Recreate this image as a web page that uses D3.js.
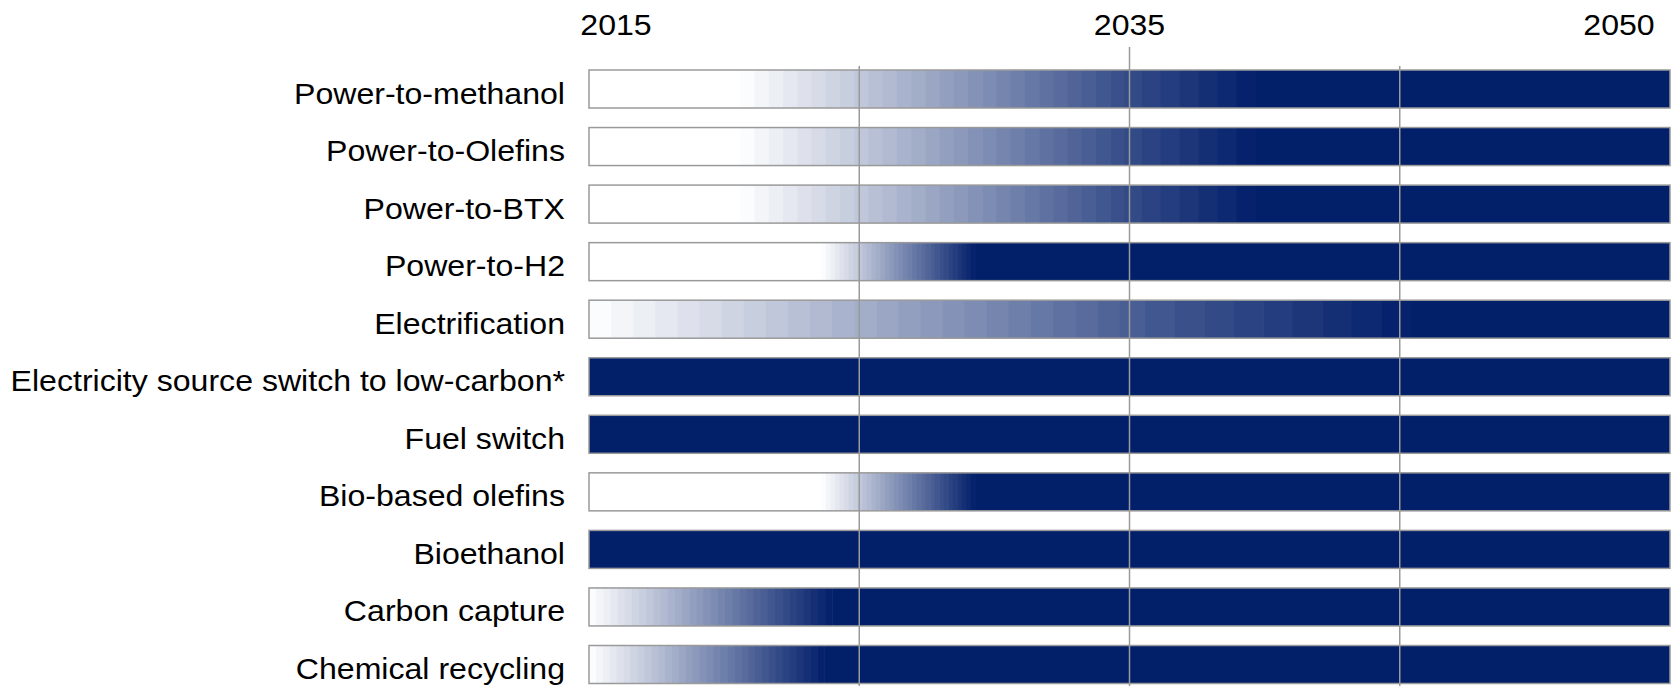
<!DOCTYPE html>
<html>
<head>
<meta charset="utf-8">
<script src="https://cdn.jsdelivr.net/npm/d3@7"></script>
<style>
  html, body { margin: 0; padding: 0; background: #fff; }
  svg { display: block; }
  text { font-family: "Liberation Sans", Arial, sans-serif; fill: #000; }
</style>
</head>
<body>
<script>
// ---- data ----
const categories = [
  "Power-to-methanol",
  "Power-to-Olefins",
  "Power-to-BTX",
  "Power-to-H2",
  "Electrification",
  "Electricity source switch to low-carbon*",
  "Fuel switch",
  "Bio-based olefins",
  "Bioethanol",
  "Carbon capture",
  "Chemical recycling"
];
// year at which the fade from white begins
const fadeStart = [2020.6, 2020.6, 2020.6, 2023.6, 2015.0, 2015.0, 2015.0, 2023.6, 2015.0, 2015.0, 2015.0];
// year at which the bar becomes fully dark
const fadeEnd   = [2038.5, 2038.5, 2038.5, 2029.3, 2042.8, 2015.0, 2015.0, 2029.3, 2015.0, 2024.0, 2023.7];
const tickYears = [2015, 2035, 2050];
const tickLabels = ["2015", "2035", "2050"];
const gridYears = [2025, 2035, 2042.5];

// ---- layout ----
const W = 1677, H = 686;
const x0 = 589, x1 = 1670;
const navy = "#021F6A";
const steps = 34;

const svg = d3.select("body").append("svg").attr("width", W).attr("height", H);

const x = d3.scaleLinear().domain([2015, 2035, 2050]).range([x0, (x0 + x1) / 2, x1]);
const y = d3.scalePoint().domain(categories).range([89, 664.5]);
const barH = 38;
const color = d3.interpolateRgb("#ffffff", navy);

const rows = categories.map((c, i) => ({ name: c, s: fadeStart[i], e: fadeEnd[i] }));

const g = svg.selectAll("g.row").data(rows).join("g").attr("class", "row");

// white background + solid dark part
g.append("rect")
  .attr("x", x(2015)).attr("width", x(2050) - x(2015))
  .attr("y", d => y(d.name) - barH / 2).attr("height", barH)
  .attr("fill", "#fff");
g.append("rect")
  .attr("x", d => x(d.e)).attr("width", d => x(2050) - x(d.e))
  .attr("y", d => y(d.name) - barH / 2).attr("height", barH)
  .attr("fill", navy);
// stepped gradient bands
g.each(function(d) {
  if (d.e <= d.s) return;
  const bands = d3.range(steps).map(k => ({
    a: d.s + (d.e - d.s) * k / steps,
    b: d.s + (d.e - d.s) * (k + 1) / steps,
    t: (k + 0.5) / steps
  }));
  d3.select(this).selectAll("rect.band").data(bands).join("rect")
    .attr("class", "band")
    .attr("x", b => x(b.a)).attr("width", b => x(b.b) - x(b.a) + 0.6)
    .attr("y", y(d.name) - barH / 2).attr("height", barH)
    .attr("fill", b => color(b.t));
});
// border
g.append("rect")
  .attr("x", x(2015)).attr("width", x(2050) - x(2015))
  .attr("y", d => y(d.name) - barH / 2).attr("height", barH)
  .attr("fill", "none").attr("stroke", "#9a9a9a").attr("stroke-width", 1.5);

// category labels
g.append("text")
  .attr("transform", d => `translate(565,${y(d.name) + 14.5}) scale(1.07,1)`)
  .attr("text-anchor", "end")
  .style("font-size", "30px")
  .text(d => d.name);

// grid lines over bars
svg.selectAll("line.grid").data(gridYears).join("line")
  .attr("class", "grid")
  .attr("x1", d => x(d)).attr("x2", d => x(d))
  .attr("y1", d => d === 2035 ? 47 : 66).attr("y2", H)
  .attr("stroke", "#9a9a9a").attr("stroke-width", 1.5);

// top year labels
const tickOffset = [27, 0, -51];
svg.selectAll("text.tick").data(tickYears).join("text")
  .attr("class", "tick")
  .attr("transform", (d, i) => `translate(${x(d) + tickOffset[i]},35) scale(1.07,1)`)
  .attr("text-anchor", "middle")
  .style("font-size", "30px")
  .text((d, i) => tickLabels[i]);
</script>
</body>
</html>
